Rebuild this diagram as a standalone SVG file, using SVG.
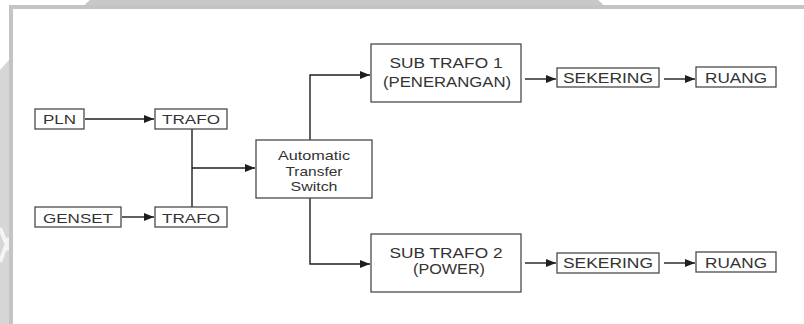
<svg xmlns="http://www.w3.org/2000/svg" width="804" height="324" viewBox="0 0 804 324">
<style>
.box{fill:#fff;stroke:#4a4a4a;stroke-width:1.3}
.t{font-family:"Liberation Sans",Arial,sans-serif;fill:#333333;text-anchor:middle}
.s13{font-size:13.5px}
.s14{font-size:14.5px}
.s15{font-size:15.5px}
.c{fill:none;stroke:#1e1e1e;stroke-width:1.4}
</style>
<defs>
<marker id="ah" viewBox="0 0 10 8" refX="10" refY="4" markerWidth="10" markerHeight="8" markerUnits="userSpaceOnUse" orient="auto">
<path d="M0 0 L10 4 L0 8 Z" fill="#1e1e1e"/>
</marker>
</defs>
<g id="background">
<rect x="0" y="0" width="804" height="324" fill="#ffffff"/>
<polygon points="0,70 9,60 9,324 0,324" fill="#d6d6d6"/>
<path d="M0 228 L9 250 M0 262 L9 238" stroke="#f4f4f4" stroke-width="4"/>
<polygon points="80,9 90,0 598,0 608,9" fill="#c8c8c8"/>
<rect x="9" y="5" width="795" height="4" fill="#c4c4c4"/>
<rect x="9" y="5" width="4" height="319" fill="#c4c4c4"/>
<rect x="13" y="9" width="791" height="315" fill="#ffffff"/>
</g>
<g id="connectors">
<path class="c" d="M85 119 H154" marker-end="url(#ah)"/>
<path class="c" d="M122 217 H154" marker-end="url(#ah)"/>
<path class="c" d="M192 129 V207" stroke-width="2.2"/>
<path class="c" d="M192 168 H255" marker-end="url(#ah)"/>
<path class="c" d="M310 140 V75 H370" marker-end="url(#ah)"/>
<path class="c" d="M310 198 V264 H370" marker-end="url(#ah)"/>
<path class="c" d="M525 79 H556" marker-end="url(#ah)"/>
<path class="c" d="M664 79 H695" marker-end="url(#ah)"/>
<path class="c" d="M525 263 H556" marker-end="url(#ah)"/>
<path class="c" d="M664 263 H695" marker-end="url(#ah)"/>
</g>
<g id="pln">
<rect class="box" x="35" y="109" width="49" height="20"/>
<text class="t s13" x="59.5" y="124" textLength="33" lengthAdjust="spacingAndGlyphs">PLN</text>
</g>
<g id="trafo1">
<rect class="box" x="155" y="109" width="72" height="20"/>
<text class="t s13" x="191" y="124" textLength="58" lengthAdjust="spacingAndGlyphs">TRAFO</text>
</g>
<g id="genset">
<rect class="box" x="35" y="207" width="86" height="20"/>
<text class="t s13" x="78" y="222.5" textLength="70" lengthAdjust="spacingAndGlyphs">GENSET</text>
</g>
<g id="trafo2">
<rect class="box" x="155" y="207" width="72" height="20"/>
<text class="t s13" x="191" y="222.5" textLength="58" lengthAdjust="spacingAndGlyphs">TRAFO</text>
</g>
<g id="ats">
<rect class="box" x="256" y="140" width="116" height="58"/>
<text class="t s13" x="314" y="160" textLength="72" lengthAdjust="spacingAndGlyphs">Automatic</text>
<text class="t s13" x="314" y="175.5" textLength="57" lengthAdjust="spacingAndGlyphs">Transfer</text>
<text class="t s13" x="314" y="191" textLength="47" lengthAdjust="spacingAndGlyphs">Switch</text>
</g>
<g id="subtrafo1">
<rect class="box" x="371" y="44" width="150" height="58"/>
<text class="t s14" x="446" y="68.3" textLength="113" lengthAdjust="spacingAndGlyphs">SUB TRAFO 1</text>
<text class="t s14" x="447" y="86.7" textLength="128" lengthAdjust="spacingAndGlyphs">(PENERANGAN)</text>
</g>
<g id="sekering1">
<rect class="box" x="557" y="68" width="102" height="19"/>
<text class="t s15" x="608" y="83" textLength="90" lengthAdjust="spacingAndGlyphs">SEKERING</text>
</g>
<g id="ruang1">
<rect class="box" x="696" y="67" width="80" height="20"/>
<text class="t s15" x="736" y="82.5" textLength="62" lengthAdjust="spacingAndGlyphs">RUANG</text>
</g>
<g id="subtrafo2">
<rect class="box" x="371" y="234" width="150" height="58"/>
<text class="t s14" x="446" y="258" textLength="113" lengthAdjust="spacingAndGlyphs">SUB TRAFO 2</text>
<text class="t s14" x="449" y="274" textLength="72" lengthAdjust="spacingAndGlyphs">(POWER)</text>
</g>
<g id="sekering2">
<rect class="box" x="557" y="253" width="102" height="20"/>
<text class="t s15" x="608" y="268" textLength="90" lengthAdjust="spacingAndGlyphs">SEKERING</text>
</g>
<g id="ruang2">
<rect class="box" x="696" y="252" width="80" height="20"/>
<text class="t s15" x="736" y="267.5" textLength="62" lengthAdjust="spacingAndGlyphs">RUANG</text>
</g>
</svg>
